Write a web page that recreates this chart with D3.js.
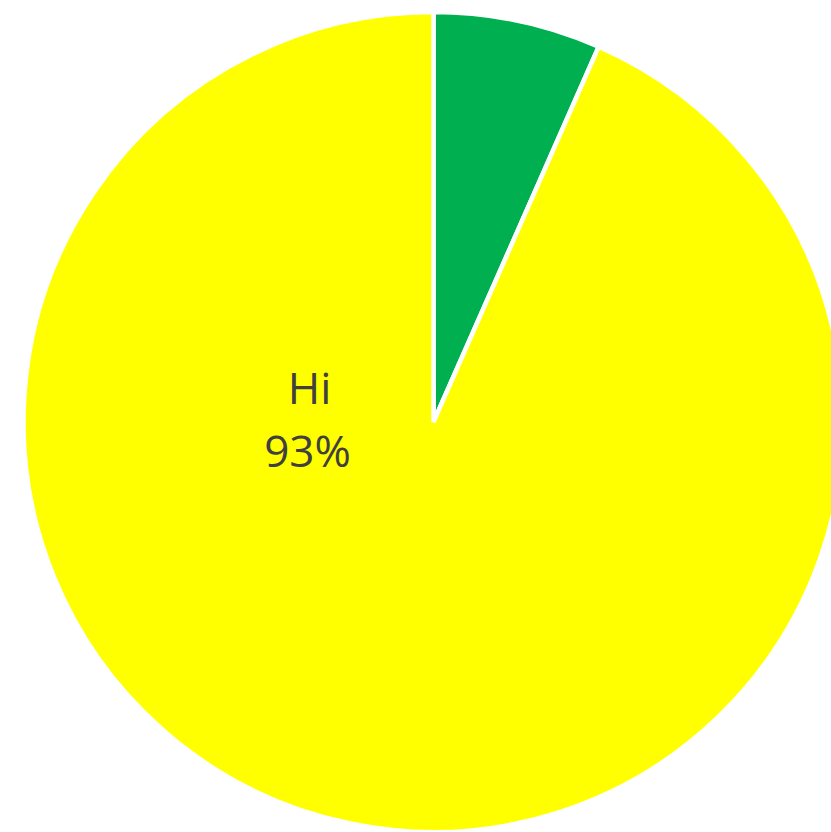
<!DOCTYPE html>
<html>
<head>
<meta charset="utf-8">
<script src="https://cdn.jsdelivr.net/npm/d3@7"></script>
<style>
  html, body { margin: 0; padding: 0; background: #fff; overflow: hidden; }
  svg { display: block; }
</style>
</head>
<body>
<svg id="chart" width="831" height="832"></svg>
<script>
const categories = ["Lo", "Hi"];
const values = [6.6, 93.4];
const colors = ["#00B050", "#FFFF00"];
const labelShown = [false, true];

const svg = d3.select("#chart");
const cx = 433.5, cy = 422, radius = 410;

const data = categories.map((c, i) => ({ name: c, value: values[i], color: colors[i], show: labelShown[i] }));
const total = d3.sum(values);

const pie = d3.pie().sort(null).value(d => d.value);
const arc = d3.arc().innerRadius(0).outerRadius(radius);

const g = svg.append("g").attr("transform", `translate(${cx},${cy})`);

g.selectAll("path.slice")
  .data(pie(data))
  .join("path")
  .attr("class", "slice")
  .attr("d", arc)
  .attr("fill", d => d.data.color)
  .attr("stroke", "#ffffff")
  .attr("stroke-width", 4.5)
  .attr("stroke-linejoin", "miter");

// label placed toward the left of the large slice
const labelArc = d3.arc().innerRadius(radius * 0.3).outerRadius(radius * 0.3);
const fmt = d3.format(".0%");

pie(data).filter(d => d.data.show).forEach(d => {
  const a = -Math.PI / 2;
  const [lx, ly] = labelArc.centroid({ startAngle: a, endAngle: a });
  const t = g.append("text")
    .attr("x", lx)
    .attr("y", ly)
    .attr("text-anchor", "middle")
    .attr("font-family", "'Open Sans', 'Noto Sans', sans-serif")
    .attr("font-size", 44)
    .attr("fill", "#404040");
  t.append("tspan").attr("x", lx - 1).attr("dy", "-0.42em").text(d.data.name);
  t.append("tspan").attr("x", lx - 3).attr("dy", "1.45em").text(fmt(d.data.value / total));
});
</script>
</body>
</html>
